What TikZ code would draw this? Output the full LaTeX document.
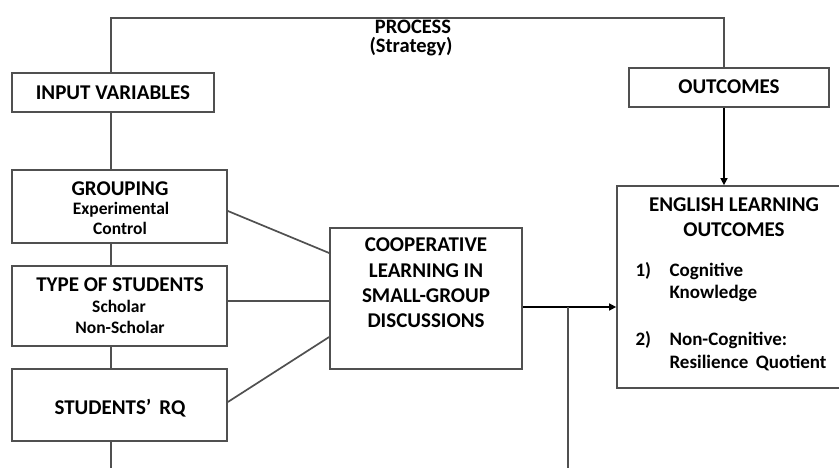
\documentclass[tikz,border=0pt]{standalone}
\usepackage{fontspec}
\setmainfont{Carlito}
\usetikzlibrary{arrows.meta}
\definecolor{linegray}{RGB}{80,80,80}
\begin{document}
\begin{tikzpicture}[x=1pt,y=-1pt,
  box/.style={draw=linegray,line width=1.7pt,fill=white,inner sep=0pt},
  wire/.style={draw=linegray,line width=1.7pt},
  flow/.style={draw=black,line width=1.4pt,-{Triangle[length=7pt,width=7pt]}},
  big/.style={font=\fontsize{21}{24}\selectfont\bfseries,text=black},
  head/.style={font=\fontsize{20.5}{24}\selectfont\bfseries,text=black},
  small/.style={font=\fontsize{17.5}{20}\selectfont\bfseries,text=black},
  item/.style={font=\fontsize{19}{22}\selectfont\bfseries,text=black,anchor=west}]
\useasboundingbox (0,0) rectangle (839,468);
\clip (0,0) rectangle (839,468);
% frame line running over the top
\coordinate (tl) at (111,18);
\coordinate (tr) at (724,18);
% boxes
\node[box,minimum width=202pt,minimum height=39pt] (input) at (113,92.5) {};
\node[big] at (input.center) {INPUT VARIABLES};
\node[box,minimum width=215pt,minimum height=73pt] (group) at (119.5,206.5) {};
\node[box,minimum width=215pt,minimum height=80pt] (type) at (119.5,306) {};
\node[box,minimum width=215pt,minimum height=72pt] (rq) at (119.5,405) {};
\node[box,minimum width=192pt,minimum height=141pt] (coop) at (426,298.5) {};
\node[box,minimum width=200pt,minimum height=39pt] (outc) at (729,87.5) {};
\node[box,minimum width=230pt,minimum height=202pt] (elo) at (732,287) {};
\coordinate (bl) at (111,468);
\coordinate (split) at (568,307);
\coordinate (br) at (568,468);
% texts
\node[head] at (413,27) {PROCESS};
\node[head] at (411,47) {(Strategy)};
\node[big] at (729,87) {OUTCOMES};
\node[big] at (120,189) {GROUPING};
\node[small] at (121,210) {Experimental};
\node[small] at (120,228) {Control};
\node[big] at (120,285) {TYPE OF STUDENTS};
\node[small] at (119,306) {Scholar};
\node[small] at (120,327) {Non-Scholar};
\node[big] at (120,408) {STUDENTS’\, RQ};
\node[big] at (426,245) {COOPERATIVE};
\node[big] at (426,271) {LEARNING IN};
\node[big] at (426,296) {SMALL-GROUP};
\node[big] at (426,321) {DISCUSSIONS};
\node[big] at (734,205) {ENGLISH LEARNING};
\node[big] at (734,230) {OUTCOMES};
\node[item] at (632,271) {1)};
\node[item] at (666,271) {Cognitive};
\node[item] at (666,293) {Knowledge};
\node[item] at (632,340) {2)};
\node[item] at (666,340) {Non-Cognitive:};
\node[item] at (666,363) {Resilience\, Quotient};
% connectors
\draw[wire] (input.north -| tl) -- (tl) -- (tr) -- (outc.north -| tr);
\draw[wire] (input.south -| tl) -- (group.north -| tl);
\draw[wire] (group.south -| tl) -- (type.north -| tl);
\draw[wire] (type.south -| tl) -- (rq.north -| tl);
\draw[wire] (rq.south -| tl) -- (bl);
\draw[wire] (group.east |- 0,211) -- (coop.west |- 0,253);
\draw[wire] (type.east |- 0,301) -- (coop.west |- 0,301);
\draw[wire] (rq.east |- 0,402) -- (coop.west |- 0,337);
\draw[flow] (outc.south -| tr) -- (elo.north -| tr);
\draw[flow] (coop.east |- split) -- (elo.west |- split);
\draw[wire] (split) -- (br);
\end{tikzpicture}
\end{document}
